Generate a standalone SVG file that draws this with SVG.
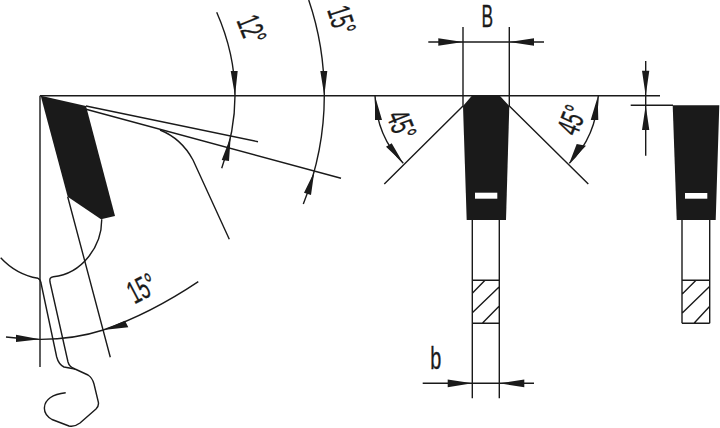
<svg xmlns="http://www.w3.org/2000/svg" width="720" height="428" viewBox="0 0 720 428">
<style>
.l{fill:none;stroke:#1a1a1a;stroke-width:1.4;stroke-linecap:butt;stroke-linejoin:round}
.d{fill:#1a1a1a;stroke:none}
.w{fill:#fff;stroke:none}
.t{font-family:"Liberation Sans",Arial,sans-serif;font-size:32px;fill:#1a1a1a;stroke:#1a1a1a;stroke-width:.35;text-anchor:middle}
</style>
<rect width="720" height="428" fill="#fff"/>
<g id="profile">
<path class="d" d="M40.700 95.700L86 106L115 216L101 219.300L67.700 196.700Z"/>
<path class="l" d="M40 95.700H660M40 95.700V367M86 106L258 141.700M86 109.300L341 178.300M67.700 196.700L110.300 357.300"/>
<path class="l" d="M160 130C175 136 186 147 193 160L229.300 239.300"/>
<path class="l" d="M101.700 219.300C102 246 82 274 53.300 276.700C50 277 49.500 279 50 282L68 362C69 366 71 367 75 369L88 375C91 377 93 380 94 384L98.300 402C99 405 98 407 96 409L80 423C76 426 73 427 69 426L52 419.500C46 416 44 411 44.500 407C45 400 52 394 65.700 392.700"/>
<path class="l" d="M0.700 257.700C12 270 25 276 38 278.300C40 279 40.500 280 41 283L56.700 357C58 362 60 365 64 367L75 369"/>
</g>
<g id="angle-15-bottom">
<path class="l" d="M6 337Q60 344 103.300 330Q150 314 198.300 281.700"/>
<path class="d" d="M40 339.300L16 334.700V342ZM103.300 330L125 320.700L128.300 327.300Z"/>
<text class="t" transform="translate(141.700 288.300) rotate(-28) scale(.58 1)" y="11">15°</text>
</g>
<g id="angle-12">
<path class="l" d="M216.700 12.300C228 38 235 66 235 95.700C235 120 230 145 221.700 168.300"/>
<path class="d" d="M235 95.700L230.700 71H237.700ZM230.700 136.700L221.700 160L229 161Z"/>
<text class="t" transform="translate(251.700 29.300) rotate(68) scale(.58 1)" y="11">12°</text>
</g>
<g id="angle-15-top">
<path class="l" d="M308.700 0C319 30 324.300 62 324.300 95.700C324.300 135 316 172 303.300 204"/>
<path class="d" d="M324.300 95.700L320.300 71H327.300ZM314.300 171.700L304 192.700L311 195Z"/>
<text class="t" transform="translate(341.700 20) rotate(72) scale(.58 1)" y="11">15°</text>
</g>
<g id="tooth-front">
<path class="d" d="M471.700 96H500L509.300 106L506 220H466.700L463 106Z"/>
<rect class="w" x="475" y="192.700" width="22.300" height="6"/>
<path class="l" d="M463 27V106M509.300 27V106M463 106L384.300 184M509.300 106L588.300 184M472.300 220V398.300M499.300 220V398.300M472.300 280.300H499.300M472.300 323.300H499.300M472.300 293.300L485 280.300M472.300 312.700L499.300 286.700M482.300 323.300L499.300 306"/>
</g>
<g id="dim-B">
<path class="l" d="M428.300 42H544"/>
<path class="d" d="M463 42L438.300 38.300V45.700ZM509.300 42L534 38.300V45.700Z"/>
<text class="t" transform="translate(487.300 27.300) scale(.56 1)" style="font-size:31px">B</text>
</g>
<g id="angle-45-left">
<path class="l" d="M375 95.700C376 123 386 146 403.300 163.300"/>
<path class="d" d="M375 96L375 120L382 120ZM403.300 163.300L386 146.700L391.700 143.300Z"/>
<text class="t" transform="translate(401.700 125) rotate(68) scale(.58 1)" y="11">45°</text>
</g>
<g id="angle-45-right">
<path class="l" d="M598.300 95.700C597 123 587 146 569.300 163.300"/>
<path class="d" d="M597.700 96.700L590.700 120H598.300ZM569.300 163.300L576.700 144L586 145.700Z"/>
<text class="t" transform="translate(571.700 120) rotate(-68) scale(.58 1)" y="11">45°</text>
</g>
<g id="dim-b">
<path class="l" d="M422.700 383.300H534"/>
<path class="d" d="M472.300 383.300L447.700 379.500V387.300ZM499.300 383.300L524.300 379.500V387.300Z"/>
<text class="t" transform="translate(435.700 369.300) scale(.62 1)" style="font-size:32px">b</text>
</g>
<g id="tooth-side">
<path class="d" d="M672.700 105.300H719.300L715.700 220H676.700Z"/>
<rect class="w" x="685" y="193" width="22.300" height="5.700"/>
<path class="l" d="M630.700 105.300H673M682 220V323.300M709.700 220V323.300M682 280.300H709.700M682 323.300H709.700M682 294.300L696 280.300M682 313.300L709.300 286.700M694 323.300L709.300 306.700"/>
</g>
<g id="dim-side">
<path class="l" d="M645.700 61V155.700"/>
<path class="d" d="M645.700 95.700L642 70.700H649.300ZM645.700 105.300L642 130H649.300Z"/>
</g>
</svg>
